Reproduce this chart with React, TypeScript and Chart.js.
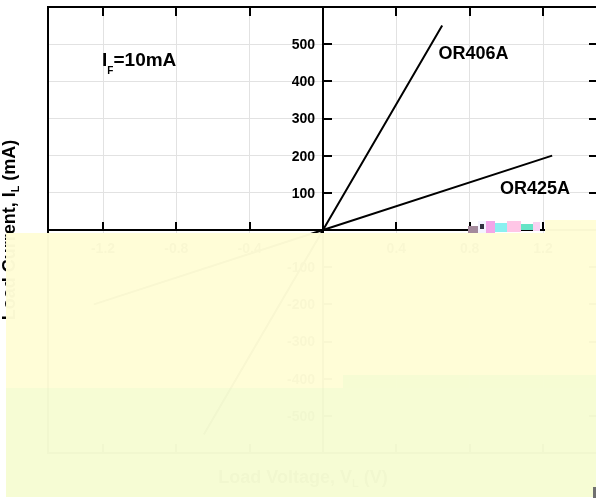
import React, { useEffect, useRef } from 'react';
import { Chart, registerables } from 'chart.js';
Chart.register(...registerables);

// ---- data ----
const X_TICKS = [-1.2, -0.8, -0.4, 0, 0.4, 0.8, 1.2];
const X_TICK_LABELS = ['-1.2', '-0.8', '-0.4', '', '0.4', '0.8', '1.2'];
const Y_TICKS = [-500, -400, -300, -200, -100, 0, 100, 200, 300, 400, 500];
const Y_TICK_LABELS = ['-500', '-400', '-300', '-200', '-100', '', '100', '200', '300', '400', '500'];
const SERIES_NAMES = ['OR406A', 'OR425A'];
const OR406A_V = [-0.65, 0, 0.65];
const OR406A_I = [-550, 0, 550];
const OR425A_V = [-1.25, 0, 1.25];
const OR425A_I = [-200, 0, 200];
const X_MIN = -1.5, X_MAX = 1.5, Y_MIN = -600, Y_MAX = 600;
// label anchors (data units)
const SERIES_LABEL_V = [0.63, 0.965];
const SERIES_LABEL_I = [460, 96];
const IF_LABEL_V = -1.205;
const IF_LABEL_I = 440;

const FONT = '"Liberation Sans", Arial, Helvetica, sans-serif';
const CANVAS_W = 606;
const CANVAS_H = 498;

function drawSegments(ctx: CanvasRenderingContext2D, segs: { t: string; size: number; dy: number }[], x: number, y: number, align: 'left' | 'center') {
  let total = 0;
  const widths = segs.map((s) => {
    ctx.font = `bold ${s.size}px ${FONT}`;
    const w = ctx.measureText(s.t).width;
    total += w;
    return w;
  });
  let cx = align === 'center' ? x - total / 2 : x;
  ctx.textAlign = 'left';
  ctx.textBaseline = 'alphabetic';
  segs.forEach((s, i) => {
    ctx.font = `bold ${s.size}px ${FONT}`;
    ctx.fillText(s.t, cx, y + s.dy);
    cx += widths[i];
  });
}

const framePlugin = {
  id: 'frame',
  afterDatasetsDraw(chart: any) {
    const { ctx, chartArea: a, scales } = chart;
    const x = scales.x, y = scales.y;
    const x0 = x.getPixelForValue(0);
    const y0 = y.getPixelForValue(0);
    ctx.save();
    ctx.strokeStyle = '#000';
    ctx.lineWidth = 2;
    ctx.strokeRect(a.left, a.top, a.right - a.left, a.bottom - a.top);
    ctx.beginPath();
    X_TICKS.forEach((v) => {
      if (v === 0) return;
      const px = Math.round(x.getPixelForValue(v));
      ctx.moveTo(px, a.top); ctx.lineTo(px, a.top + 9);
      ctx.moveTo(px, a.bottom); ctx.lineTo(px, a.bottom - 9);
      ctx.moveTo(px, y0); ctx.lineTo(px, y0 - 8);
    });
    Y_TICKS.forEach((v) => {
      if (v === 0) return;
      const py = Math.round(y.getPixelForValue(v));
      ctx.moveTo(a.right, py); ctx.lineTo(a.right - 9, py);
      ctx.moveTo(x0, py); ctx.lineTo(x0 + 9, py);
    });
    ctx.stroke();

    // tick labels
    ctx.fillStyle = '#000';
    ctx.font = `bold 14px ${FONT}`;
    ctx.textAlign = 'right';
    ctx.textBaseline = 'middle';
    Y_TICKS.forEach((v, i) => {
      if (!Y_TICK_LABELS[i]) return;
      ctx.fillText(Y_TICK_LABELS[i], x0 - 8, y.getPixelForValue(v) + 1);
    });
    ctx.textAlign = 'center';
    ctx.textBaseline = 'top';
    X_TICKS.forEach((v, i) => {
      if (!X_TICK_LABELS[i]) return;
      ctx.fillText(X_TICK_LABELS[i], x.getPixelForValue(v), y0 + 12);
    });

    // series labels
    SERIES_NAMES.forEach((name, i) => {
      ctx.font = `bold 18px ${FONT}`;
      ctx.textAlign = 'left';
      ctx.textBaseline = 'alphabetic';
      ctx.fillText(name, x.getPixelForValue(SERIES_LABEL_V[i]), y.getPixelForValue(SERIES_LABEL_I[i]));
    });

    // I_F=10mA
    drawSegments(ctx, [
      { t: 'I', size: 19, dy: 0 },
      { t: 'F', size: 10, dy: 8 },
      { t: '=10mA', size: 19, dy: 0 },
    ], x.getPixelForValue(IF_LABEL_V), y.getPixelForValue(IF_LABEL_I), 'left');

    // axis titles
    ctx.save();
    ctx.translate(15, (a.top + a.bottom) / 2);
    ctx.rotate(-Math.PI / 2);
    drawSegments(ctx, [
      { t: 'Load Current, I', size: 18, dy: 0 },
      { t: 'L', size: 11, dy: 4 },
      { t: ' (mA)', size: 18, dy: 0 },
    ], 0, 0, 'center');
    ctx.restore();
    drawSegments(ctx, [
      { t: 'Load Voltage, V', size: 18, dy: 0 },
      { t: 'L', size: 11, dy: 4 },
      { t: ' (V)', size: 18, dy: 0 },
    ], (a.left + a.right) / 2 - 20, a.bottom + 30, 'center');
    ctx.restore();
  },
  afterDraw(chart: any) {
    const { ctx } = chart;
    const y0 = Math.round(chart.scales.y.getPixelForValue(0));
    ctx.save();
    // pale yellow wash over the lower part of the picture
    ctx.fillStyle = 'rgba(255,253,214,0.975)';
    ctx.fillRect(6, y0 + 3, CANVAS_W - 6, 155);
    ctx.fillRect(545, y0 - 10, CANVAS_W - 545, 13);
    ctx.fillStyle = 'rgba(246,252,211,0.98)';
    ctx.fillRect(6, y0 + 158, CANVAS_W - 6, 109);
    ctx.fillRect(343, y0 + 145, CANVAS_W - 343, 13);
    // compression glitch
    const glitch: [number, number, number, number, string][] = [
      [468, y0 - 4, 10, 7, '#a48a9c'],
      [478, y0 - 9, 8, 12, '#f4f4ff'],
      [480, y0 - 6, 4, 5, '#303040'],
      [486, y0 - 9, 9, 12, '#f2a6e8'],
      [495, y0 - 7, 12, 9, '#8af0f0'],
      [507, y0 - 9, 14, 11, '#ffc6e6'],
      [521, y0 - 6, 12, 6, '#66e4c6'],
      [533, y0 - 8, 7, 9, '#f8d2f2'],
    ];
    glitch.forEach(([gx, gy, gw, gh, c]) => {
      ctx.fillStyle = c;
      ctx.fillRect(gx, gy, gw, gh);
    });
    ctx.fillStyle = '#707070';
    ctx.fillRect(593, CANVAS_H - 11, 4, 11);
    ctx.restore();
  },
};

export default function App() {
  const ref = useRef<HTMLCanvasElement | null>(null);
  useEffect(() => {
    if (!ref.current) return;
    const lineStyle = {
      borderColor: '#000',
      borderWidth: 2,
      pointRadius: 0,
      showLine: true,
      fill: false,
      tension: 0,
    };
    const chart = new Chart(ref.current, {
      type: 'scatter',
      data: {
        datasets: [
          { label: SERIES_NAMES[0], data: OR406A_V.map((v, i) => ({ x: v, y: OR406A_I[i] })), ...lineStyle },
          { label: SERIES_NAMES[1], data: OR425A_V.map((v, i) => ({ x: v, y: OR425A_I[i] })), ...lineStyle },
        ],
      },
      options: {
        responsive: false,
        animation: false,
        events: [],
        layout: { padding: { left: 48, top: 7, right: CANVAS_W - 598, bottom: CANVAS_H - 453 } },
        plugins: { legend: { display: false }, tooltip: { enabled: false }, title: { display: false } },
        scales: {
          x: {
            type: 'linear',
            position: { y: 0 } as any,
            min: X_MIN,
            max: X_MAX,
            afterBuildTicks: (s: any) => { s.ticks = X_TICKS.map((v) => ({ value: v })); },
            ticks: { display: false },
            grid: { color: '#e2e2e2', lineWidth: 1, drawTicks: false },
            border: { color: '#000', width: 2 },
          },
          y: {
            type: 'linear',
            position: { x: 0 } as any,
            min: Y_MIN,
            max: Y_MAX,
            afterBuildTicks: (s: any) => { s.ticks = Y_TICKS.map((v) => ({ value: v })); },
            ticks: { display: false },
            grid: { color: '#e2e2e2', lineWidth: 1, drawTicks: false },
            border: { color: '#000', width: 2 },
          },
        },
      },
      plugins: [framePlugin],
    });
    return () => chart.destroy();
  }, []);
  return (
    <div style={{ width: CANVAS_W, height: CANVAS_H, overflow: 'hidden' }}>
      <style>{'html,body{margin:0;padding:0;overflow:hidden;background:#fff}'}</style>
      <canvas ref={ref} width={CANVAS_W} height={CANVAS_H} style={{ display: 'block' }} />
    </div>
  );
}
